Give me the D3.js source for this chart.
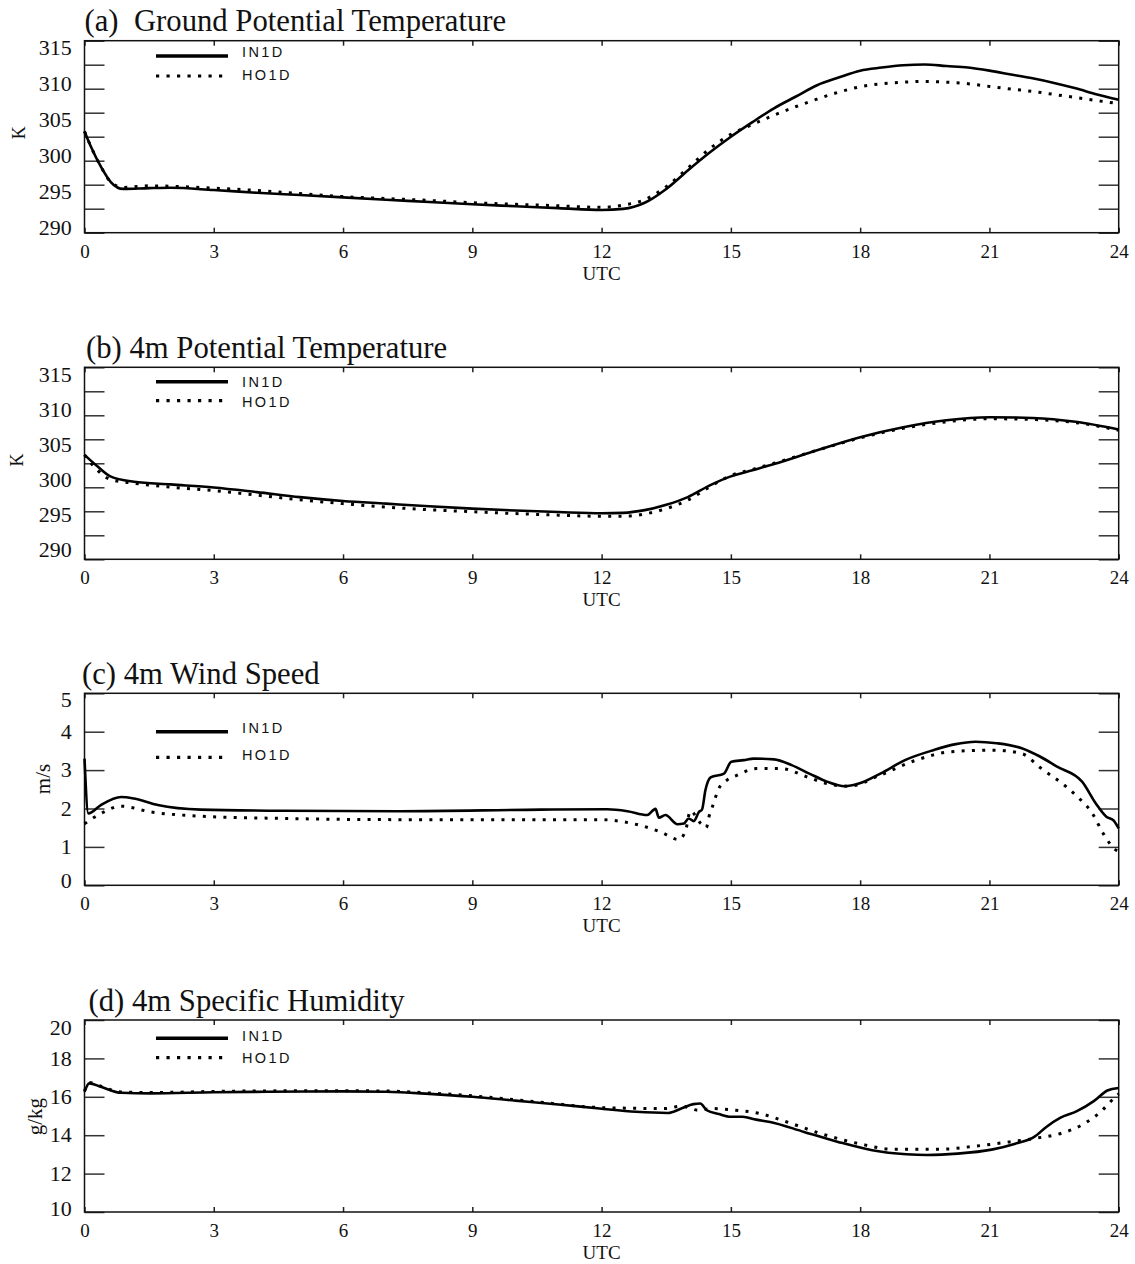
<!DOCTYPE html>
<html><head><meta charset="utf-8">
<script src="https://cdn.jsdelivr.net/npm/d3@7"></script>
<style>body{margin:0;background:#fff}</style>
</head><body><svg id="c" width="1135" height="1264"></svg>
<script>
// ---------- DATA ----------
const xTicks = [0, 3, 6, 9, 12, 15, 18, 21, 24];
const labelsAB = [290, 295, 300, 305, 310, 315];
const ticksAB = [290, 293.125, 296.25, 299.375, 302.5, 305.625, 308.75, 311.875, 315];
const labelsC = [0, 1, 2, 3, 4, 5];
const labelsD = [10, 12, 14, 16, 18, 20];
const seriesNames = ["IN1D", "HO1D"];

const aTime = [0, 0.15, 0.38, 0.61, 0.9, 1.5, 2, 3, 4, 5, 6, 7, 8, 9, 10, 11, 12, 12.5, 13, 13.5, 14, 14.5, 15, 15.5, 16, 16.5, 17, 17.5, 18, 18.5, 19, 19.5, 20, 20.5, 21, 21.5, 22, 22.5, 23, 23.5, 24];
const aIN = [303.2, 301.2, 298.6, 296.6, 295.7, 295.8, 295.85, 295.55, 295.2, 294.9, 294.6, 294.3, 294.0, 293.7, 293.45, 293.2, 292.95, 293.1, 293.9, 295.7, 298.1, 300.4, 302.5, 304.4, 306.2, 307.7, 309.2, 310.2, 311.1, 311.5, 311.8, 311.9, 311.7, 311.5, 311.1, 310.6, 310.1, 309.5, 308.8, 308.0, 307.3];
const aHO = [303.2, 301.2, 298.6, 296.6, 295.9, 296.1, 296.05, 295.8, 295.5, 295.1, 294.7, 294.45, 294.2, 293.9, 293.7, 293.5, 293.3, 293.6, 294.3, 296.0, 298.4, 300.9, 302.8, 304.1, 305.3, 306.4, 307.4, 308.3, 309.0, 309.4, 309.6, 309.7, 309.6, 309.4, 309.05, 308.7, 308.4, 308.0, 307.6, 307.2, 306.8];

const bTime = [0, 0.3, 0.6, 1.15, 2, 3, 4, 5, 6, 7, 8, 9, 10, 11, 12, 12.5, 13, 13.5, 14, 14.5, 15, 15.5, 16, 17, 18, 19, 20, 21, 22, 23, 24];
const bIN = [303.6, 302.1, 300.8, 300.1, 299.75, 299.35, 298.75, 298.1, 297.6, 297.25, 296.9, 296.6, 296.35, 296.15, 296.0, 296.05, 296.4, 297.1, 298.1, 299.6, 300.8, 301.6, 302.4, 304.2, 305.9, 307.2, 308.1, 308.5, 308.4, 307.9, 306.9];
const bHO = [303.6, 301.6, 300.4, 299.9, 299.4, 298.95, 298.35, 297.75, 297.25, 296.8, 296.45, 296.2, 295.95, 295.75, 295.6, 295.6, 295.9, 296.6, 297.7, 299.4, 300.9, 301.7, 302.5, 304.2, 305.8, 307.05, 307.9, 308.3, 308.2, 307.8, 306.8];

const cTimeIN = [0, 0.09, 0.38, 0.85, 1.15, 1.7, 2.7, 4.65, 7.34, 10.58, 12.13, 12.6, 13.06, 13.25, 13.33, 13.48, 13.76, 13.91, 14.02, 14.14, 14.26, 14.33, 14.41, 14.53, 14.84, 15.01, 15.3, 15.53, 16.0, 16.41, 16.82, 17.23, 17.64, 17.97, 18.47, 19.04, 19.7, 20.19, 20.68, 21.17, 21.75, 22.16, 22.57, 23.15, 23.47, 23.72, 23.87, 24];
const cIN = [3.3, 1.87, 2.09, 2.30, 2.26, 2.09, 1.97, 1.94, 1.93, 1.97, 1.98, 1.93, 1.83, 1.99, 1.76, 1.83, 1.59, 1.61, 1.74, 1.67, 1.91, 1.97, 2.48, 2.81, 2.91, 3.22, 3.26, 3.30, 3.28, 3.13, 2.91, 2.70, 2.58, 2.65, 2.91, 3.26, 3.52, 3.67, 3.74, 3.70, 3.57, 3.36, 3.09, 2.70, 2.13, 1.78, 1.70, 1.48];
const cTimeHO = [0, 0.38, 0.85, 1.54, 2.7, 4.65, 7.34, 10.58, 11.98, 12.52, 12.9, 13.37, 13.79, 13.95, 14.06, 14.3, 14.43, 14.49, 14.57, 14.72, 14.91, 15.15, 15.6, 16.17, 16.75, 17.23, 17.73, 18.47, 19.3, 20.12, 21.1, 21.75, 22.16, 23.0, 23.39, 23.64, 23.92, 24];
const cHO = [1.6, 1.87, 2.06, 1.91, 1.80, 1.74, 1.71, 1.71, 1.71, 1.65, 1.56, 1.39, 1.19, 1.43, 1.94, 1.61, 1.50, 1.78, 2.04, 2.52, 2.74, 2.87, 3.04, 3.04, 2.83, 2.65, 2.58, 2.87, 3.26, 3.48, 3.52, 3.43, 3.08, 2.35, 1.87, 1.35, 0.93, 0.88];

const dTimeIN = [0, 0.11, 0.38, 0.85, 1.54, 3, 4.25, 6, 7, 8, 9, 10, 11, 11.95, 12.8, 13.54, 13.85, 14.13, 14.29, 14.44, 14.72, 15.0, 15.27, 15.59, 15.91, 16.7, 17.49, 18.28, 19.07, 19.55, 20.26, 21.05, 21.6, 22.04, 22.32, 22.64, 23.03, 23.43, 23.74, 24];
const dIN = [16.26, 16.7, 16.52, 16.21, 16.18, 16.24, 16.26, 16.28, 16.26, 16.15, 16.0, 15.8, 15.6, 15.39, 15.22, 15.16, 15.39, 15.62, 15.65, 15.30, 15.10, 14.96, 14.96, 14.81, 14.69, 14.17, 13.65, 13.22, 13.01, 12.97, 13.04, 13.25, 13.56, 13.91, 14.43, 14.90, 15.25, 15.79, 16.33, 16.46];
const dTimeHO = [0, 0.11, 0.38, 0.85, 1.54, 3, 6, 7, 8, 9, 10, 11, 11.95, 13.47, 13.85, 14.25, 14.57, 15.12, 15.67, 16.3, 17.09, 17.97, 18.77, 19.88, 20.67, 21.46, 22.1, 22.7, 23.2, 23.6, 23.9, 24];
const dHO = [16.3, 16.75, 16.55, 16.25, 16.22, 16.28, 16.32, 16.3, 16.2, 16.05, 15.85, 15.62, 15.44, 15.39, 15.51, 15.30, 15.39, 15.30, 15.13, 14.69, 14.08, 13.56, 13.27, 13.27, 13.43, 13.65, 13.85, 14.12, 14.6, 15.26, 15.95, 16.15];

// ---------- LAYOUT ----------
const plotLeft = 84.5, plotRight = 1118.7, plotH = 192;
const serif = "'Liberation Serif','Times New Roman',Times,serif";
const sans = "'Liberation Sans',Arial,Helvetica,sans-serif";

const panels = [
  {top: 40.7, title: "(a)\u00a0 Ground Potential Temperature", titleX: 84.5, unit: "K", unitX: 19, unitY: 92, unitSize: 18, unitDy: "0.33em",
   domain: [290, 315], labels: labelsAB, ticks: ticksAB, mode: "compress", inset: [6.8, 5.2],
   leg: [15.3, 35.3, 16, 39.3], tIN: aTime, vIN: aIN, tHO: aTime, vHO: aHO},
  {top: 367.3, title: "(b) 4m Potential Temperature", titleX: 86, unit: "K", unitX: 17, unitY: 92.7, unitSize: 18, unitDy: "0.33em",
   domain: [290, 315], labels: labelsAB, ticks: ticksAB, mode: "compress", inset: [7.7, 9.3],
   leg: [14.4, 33.4, 19.4, 40], tIN: bTime, vIN: bIN, tHO: bTime, vHO: bHO},
  {top: 693.3, title: "(c) 4m Wind Speed", titleX: 82, unit: "m/s", unitX: 45, unitY: 85.7, unitSize: 21, unitDy: "0.24em",
   domain: [0, 5], labels: labelsC, ticks: labelsC, mode: "clamp", inset: [6.7, 5],
   leg: [38.4, 64, 40, 66.7], tIN: cTimeIN, vIN: cIN, tHO: cTimeHO, vHO: cHO},
  {top: 1020, title: "(d) 4m Specific Humidity", titleX: 88.5, unit: "g/kg", unitX: 37, unitY: 96.7, unitSize: 21, unitDy: "0.23em",
   domain: [10, 20], labels: labelsD, ticks: labelsD, mode: "clamp", inset: [8, 3],
   leg: [18.3, 37.7, 20.7, 42.7], tIN: dTimeIN, vIN: dIN, tHO: dTimeHO, vHO: dHO}
];

const svg = d3.select("#c");
const x = d3.scaleLinear().domain([0, 24]).range([0, plotRight - plotLeft]);
const pw = plotRight - plotLeft;

panels.forEach(p => {
  const g = svg.append("g").attr("transform", `translate(${plotLeft},${p.top})`);
  const y = d3.scaleLinear().domain(p.domain).range([plotH, 0]);

  // title
  svg.append("text").attr("x", p.titleX).attr("y", p.top - 9.5)
    .attr("font-family", serif).attr("font-size", 30.7).attr("fill", "#111").text(p.title);

  // unit label
  svg.append("text").attr("transform", `translate(${p.unitX},${p.top + p.unitY}) rotate(-90)`)
    .attr("text-anchor", "middle").attr("dy", p.unitDy)
    .attr("font-family", serif).attr("font-size", p.unitSize).attr("fill", "#111").text(p.unit);

  // left / right inner ticks
  const la = g.append("g").call(d3.axisLeft(y).tickValues(p.ticks).tickSize(-20).tickFormat(""));
  const ra = g.append("g").attr("transform", `translate(${pw},0)`)
    .call(d3.axisRight(y).tickValues(p.ticks).tickSize(-20).tickFormat(""));
  [la, ra].forEach(a => { a.select(".domain").remove(); a.selectAll("line").attr("stroke", "#333").attr("stroke-width", 1.5); });

  // y labels
  const ly = p.mode === "compress"
    ? d3.scaleLinear().domain(p.domain).range([plotH - p.inset[1], p.inset[0]])
    : (v => Math.max(p.inset[0], Math.min(plotH - p.inset[1], y(v))));
  g.selectAll(".yl").data(p.labels).join("text").attr("class", "yl")
    .attr("x", -12.8).attr("y", d => ly(d)).attr("dy", "0.33em")
    .attr("text-anchor", "end").attr("font-family", serif).attr("font-size", 22).attr("fill", "#111")
    .text(d => d);

  // x axis bottom (inner ticks) + top ticks
  const ba = g.append("g").attr("transform", `translate(0,${plotH})`)
    .call(d3.axisBottom(x).tickValues(xTicks).tickSizeInner(-5).tickSizeOuter(0));
  ba.select(".domain").remove();
  ba.selectAll("line").attr("stroke", "#222").attr("stroke-width", 1.5);
  ba.selectAll("text").attr("y", 25).attr("dy", null)
    .attr("font-family", serif).attr("font-size", 19).attr("fill", "#111");
  const ta = g.append("g").call(d3.axisTop(x).tickValues(xTicks).tickSizeInner(-5).tickSizeOuter(0).tickFormat(""));
  ta.select(".domain").remove();
  ta.selectAll("line").attr("stroke", "#222").attr("stroke-width", 1.5);

  g.append("text").attr("x", x(12)).attr("y", plotH + 47).attr("text-anchor", "middle")
    .attr("font-family", serif).attr("font-size", 19).attr("fill", "#111").text("UTC");

  // frame
  g.append("rect").attr("width", pw).attr("height", plotH)
    .attr("fill", "none").attr("stroke", "#111").attr("stroke-width", 1.5);

  // lines
  const line = d3.line().x(d => x(d[0])).y(d => y(d[1])).curve(d3.curveMonotoneX);
  const inData = p.tIN.map((t, i) => [t, p.vIN[i]]);
  const hoData = p.tHO.map((t, i) => [t, p.vHO[i]]);
  g.append("path").datum(hoData).attr("d", line).attr("fill", "none")
    .attr("stroke", "#000").attr("stroke-width", 3).attr("stroke-dasharray", "3 7.3");
  g.append("path").datum(inData).attr("d", line).attr("fill", "none")
    .attr("stroke", "#000").attr("stroke-width", 2.6).attr("stroke-linejoin", "round");

  // legend
  g.append("line").attr("x1", 71.5).attr("x2", 143.5).attr("y1", p.leg[0]).attr("y2", p.leg[0])
    .attr("stroke", "#000").attr("stroke-width", 3.4);
  g.append("line").attr("x1", 71.5).attr("x2", 143.5).attr("y1", p.leg[1]).attr("y2", p.leg[1])
    .attr("stroke", "#000").attr("stroke-width", 3.2).attr("stroke-dasharray", "3.2 7.3");
  [0, 1].forEach(i => {
    g.append("text").attr("x", 157.5).attr("y", p.leg[2 + i])
      .attr("font-family", sans).attr("font-size", 14.5).attr("letter-spacing", "2.4px")
      .attr("fill", "#111").text(seriesNames[i]);
  });
});
</script>
</body></html>
